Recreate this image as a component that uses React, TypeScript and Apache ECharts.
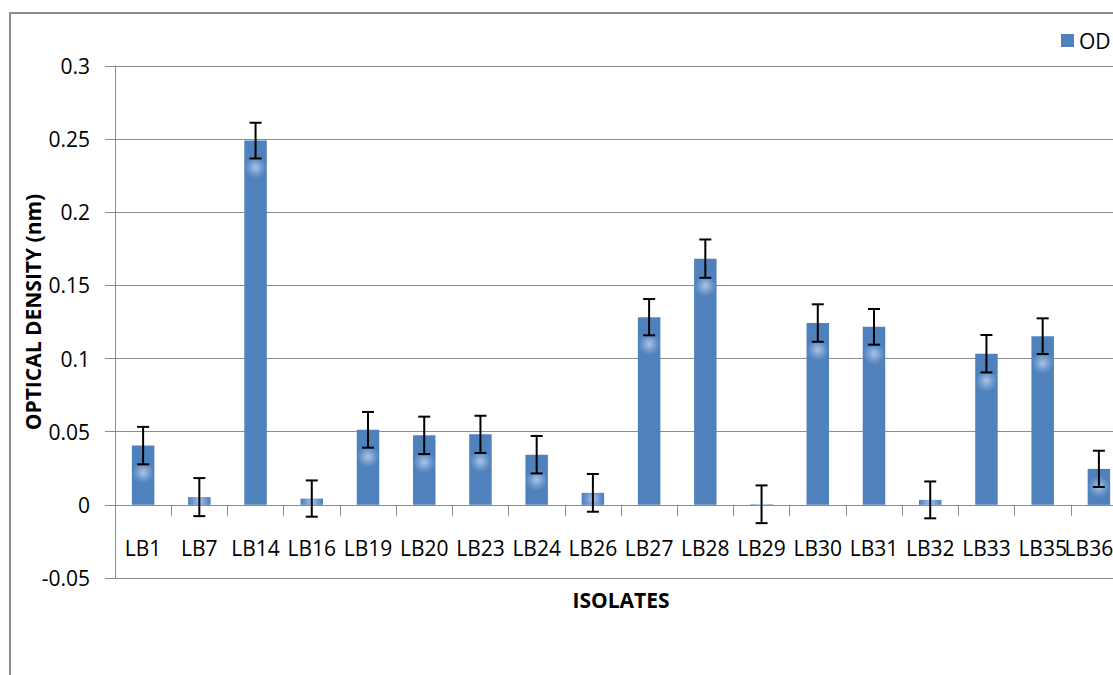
import React, { useEffect, useRef } from "react";
import * as echarts from "echarts";

const categories = ["LB1", "LB7", "LB14", "LB16", "LB19", "LB20", "LB23", "LB24", "LB26", "LB27", "LB28", "LB29", "LB30", "LB31", "LB32", "LB33", "LB35", "LB36"];
const odValues = [0.0405, 0.0053, 0.249, 0.0043, 0.0513, 0.0475, 0.0482, 0.0343, 0.0082, 0.1283, 0.1683, 0.0004, 0.1243, 0.1217, 0.0034, 0.1033, 0.1153, 0.0246];
const odErrors = [0.0128, 0.013, 0.0122, 0.0124, 0.0122, 0.0128, 0.0127, 0.0128, 0.0129, 0.0124, 0.0131, 0.0129, 0.0128, 0.0122, 0.0126, 0.0128, 0.0122, 0.0124];
const yMin = -0.05;
const yMax = 0.3;
const yStep = 0.05;

const FONT = "'Open Sans', 'Noto Sans', sans-serif";
const BAR = "#4F81BD";

export default function App() {
  const ref = useRef<HTMLDivElement>(null);
  useEffect(() => {
    if (!ref.current) return;
    const chart = echarts.init(ref.current, null, { renderer: "svg" });

    const errData = odValues.map((v, i) => [i, v - odErrors[i], v + odErrors[i]]);
    const catData = categories.map((c, i) =>
      i === categories.length - 1 ? { value: c, textStyle: { padding: [0, 20, 0, 0] } } : c
    );

    chart.setOption({
      animation: false,
      textStyle: { fontFamily: FONT },
      graphic: [
        {
          type: "rect",
          shape: { x: 10, y: 13, width: 1300, height: 900 },
          style: { fill: "none", stroke: "#8c8c8c", lineWidth: 2 },
          z: 0,
        },
      ],
      legend: {
        data: ["OD"],
        left: 1061,
        top: 30,
        padding: 0,
        itemWidth: 13,
        itemHeight: 13,
        itemGap: 6,
        icon: "rect",
        textStyle: { fontFamily: FONT, fontSize: 21, color: "#000" },
      },
      grid: { left: 115, top: 66, width: 1012, height: 512, containLabel: false, outerBoundsMode: "none" },
      xAxis: {
        type: "category",
        data: catData,
        name: "ISOLATES",
        nameLocation: "middle",
        nameGap: 11,
        nameMoveOverlap: false,
        nameTextStyle: { fontFamily: FONT, fontSize: 21, fontWeight: "bold", color: "#000" },
        axisLine: { onZero: true, lineStyle: { color: "#8c8c8c", width: 1 } },
        axisTick: { show: true, length: 11, lineStyle: { color: "#8c8c8c" } },
        axisLabel: { margin: -41, fontFamily: FONT, fontSize: 21, color: "#000", interval: 0 },
        splitLine: { show: false },
      },
      yAxis: {
        type: "value",
        min: yMin,
        max: yMax,
        interval: yStep,
        name: "OPTICAL DENSITY (nm)",
        nameLocation: "middle",
        nameGap: 72,
        nameMoveOverlap: false,
        nameTextStyle: { fontFamily: FONT, fontSize: 21, fontWeight: "bold", color: "#000", padding: [0, 0, 0, 20] },
        axisLine: { show: true, lineStyle: { color: "#8c8c8c", width: 1 } },
        axisTick: { show: true, length: 10, lineStyle: { color: "#8c8c8c" } },
        axisLabel: {
          margin: 25,
          fontFamily: FONT,
          fontSize: 21,
          color: "#000",
          formatter: (v: number) => String(parseFloat(v.toFixed(2))),
        },
        splitLine: { show: true, lineStyle: { color: "#8c8c8c", width: 1 } },
      },
      series: [
        {
          name: "OD",
          type: "bar",
          data: odValues,
          barCategoryGap: "60%",
          itemStyle: { color: BAR },
          z: 2,
        },
        {
          name: "err",
          type: "custom",
          data: errData,
          z: 3,
          renderItem: (params: any, api: any) => {
            const x = api.value(0);
            const lo = api.coord([x, api.value(1)]);
            const hi = api.coord([x, api.value(2)]);
            const half = 6;
            const st = { stroke: "#000", lineWidth: 2 };
            return {
              type: "group",
              children: [
                { type: "line", shape: { x1: hi[0], y1: hi[1], x2: lo[0], y2: lo[1] }, style: st },
                { type: "line", shape: { x1: hi[0] - half, y1: hi[1], x2: hi[0] + half, y2: hi[1] }, style: st },
                { type: "line", shape: { x1: lo[0] - half, y1: lo[1], x2: lo[0] + half, y2: lo[1] }, style: st },
              ],
            };
          },
        },
      ],
    });

    // Excel-like shine: a small round highlight a little below each bar's top
    const shined = odValues.map((v, i) => {
      const top = chart.convertToPixel({ seriesIndex: 0 }, [i, v]) as number[];
      const base = chart.convertToPixel({ seriesIndex: 0 }, [i, 0]) as number[];
      if (!top || !base) return v;
      const y = Math.min(top[1] + 27, top[1] + (base[1] - top[1]) / 2);
      return {
        value: v,
        itemStyle: {
          color: new echarts.graphic.RadialGradient(
            top[0],
            y,
            11,
            [
              { offset: 0, color: "#aac4e6" },
              { offset: 0.6, color: "#6f98cc" },
              { offset: 1, color: BAR },
            ],
            true
          ),
        },
      };
    });
    chart.setOption({ series: [{ name: "OD", data: shined }] });

    return () => chart.dispose();
  }, []);
  return <div ref={ref} style={{ position: "fixed", left: 0, top: 0, width: 1113, height: 675, background: "#fff" }} />;
}
